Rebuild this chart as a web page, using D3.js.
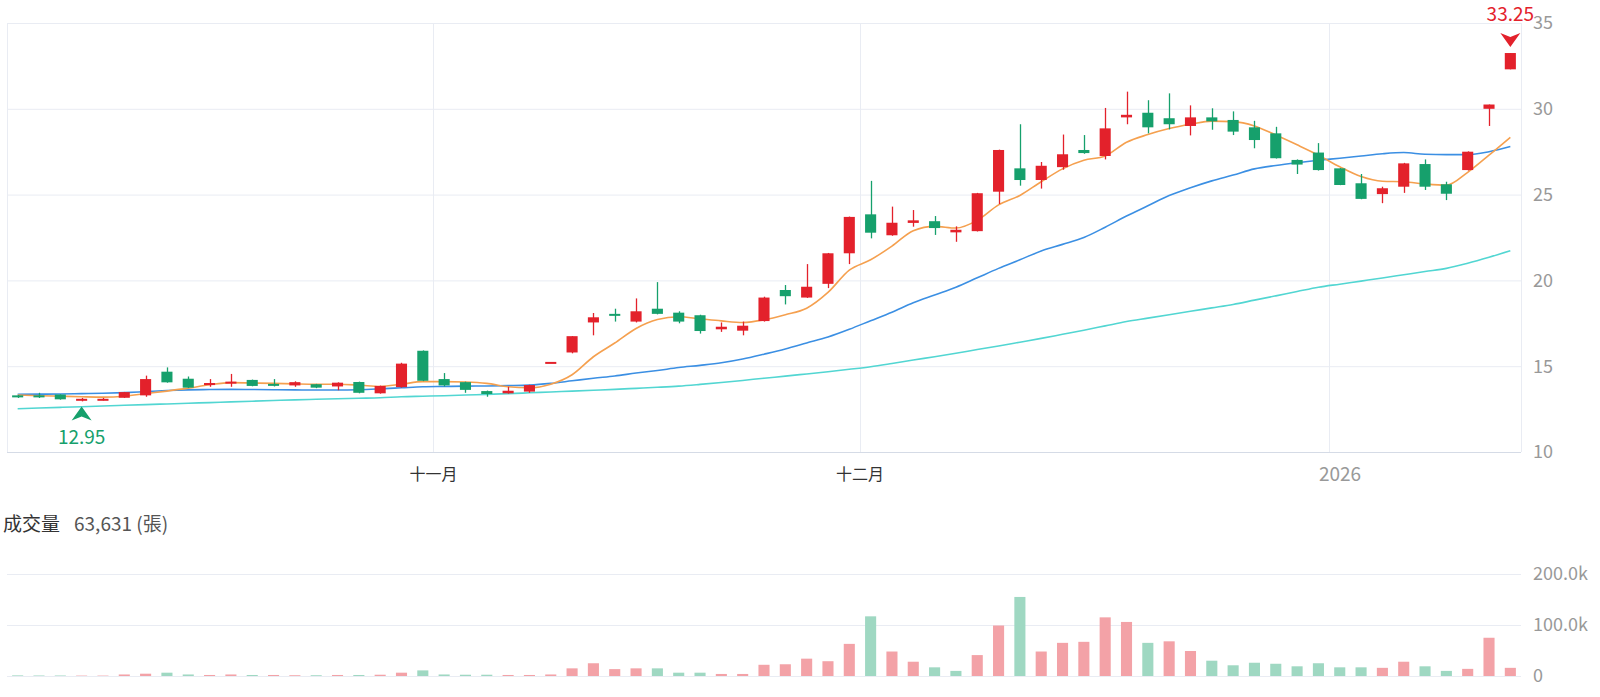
<!DOCTYPE html>
<meta charset="utf-8">
<style>
  body { margin: 0; background: #fff; }
  svg { display: block; font-family: "Noto Sans CJK TC", "Noto Sans", sans-serif; }
  .grid line { stroke: #e9ecf3; stroke-width: 1; }
  .ylab { font-size: 18px; fill: #999; }
</style>
<script src="https://d3js.org/d3.v7.min.js"></script>
<div id="chart"></div>
<script>
  // trading days shown (Oct 2025 - mid Jan 2026)
  var dates = [
    "2025-10-01","2025-10-02","2025-10-03","2025-10-07","2025-10-08","2025-10-09","2025-10-13","2025-10-14",
    "2025-10-15","2025-10-16","2025-10-17","2025-10-20","2025-10-21","2025-10-22","2025-10-23","2025-10-27",
    "2025-10-28","2025-10-29","2025-10-30","2025-10-31",
    "2025-11-03","2025-11-04","2025-11-05","2025-11-06","2025-11-07","2025-11-10","2025-11-11","2025-11-12",
    "2025-11-13","2025-11-14","2025-11-17","2025-11-18","2025-11-19","2025-11-20","2025-11-21","2025-11-24",
    "2025-11-25","2025-11-26","2025-11-27","2025-11-28",
    "2025-12-01","2025-12-02","2025-12-03","2025-12-04","2025-12-05","2025-12-08","2025-12-09","2025-12-10",
    "2025-12-11","2025-12-12","2025-12-15","2025-12-16","2025-12-17","2025-12-18","2025-12-19","2025-12-22",
    "2025-12-23","2025-12-24","2025-12-26","2025-12-29","2025-12-30","2025-12-31",
    "2026-01-02","2026-01-05","2026-01-06","2026-01-07","2026-01-08","2026-01-09","2026-01-12","2026-01-13",
    "2026-01-14"
  ];
  var open = [13.3,13.3,13.35,13.05,13.08,13.16,13.3,14.68,14.27,13.9,14.0,14.2,13.97,13.88,13.95,13.82,14.08,13.42,13.78,15.9,
    14.25,14.07,13.55,13.42,13.52,15.25,15.8,17.55,18.05,17.6,18.35,18.12,17.97,17.15,17.07,17.63,19.44,19.0,19.8,21.58,
    23.85,22.63,23.35,23.45,22.8,22.87,25.17,26.53,25.85,26.6,27.6,27.25,29.5,29.77,29.45,29.0,29.5,29.35,28.92,28.57,27.02,27.45,
    26.53,25.66,25.03,25.46,26.78,25.6,26.43,30.0,32.3];
  var high = [13.32,13.45,13.36,13.15,13.15,13.5,14.45,14.93,14.4,14.25,14.55,14.22,14.25,14.12,13.97,14.06,14.1,13.87,15.2,15.92,
    14.6,14.1,13.58,13.8,13.92,15.25,16.75,18.1,18.35,18.95,19.9,18.2,18.0,17.55,17.6,19.05,19.73,20.95,21.6,23.72,
    25.8,24.3,24.1,23.75,23.15,25.1,27.62,29.1,26.9,28.5,28.47,30.05,31.0,30.5,30.9,30.2,30.03,29.85,29.3,28.95,27.05,28.0,
    26.55,26.2,25.46,26.85,27.05,25.75,27.52,30.25,33.25];
  var low = [13.15,13.15,13.05,12.95,13.0,13.15,13.22,14.04,13.73,13.8,13.8,13.83,13.82,13.8,13.72,13.6,13.42,13.4,13.75,14.13,
    13.82,13.45,13.22,13.4,13.45,15.25,15.75,16.8,17.6,17.55,18.02,17.5,16.9,17.0,16.8,17.6,18.6,18.98,19.55,20.95,
    22.45,22.6,23.13,22.65,22.25,22.85,24.45,25.52,25.35,26.45,27.38,27.05,29.1,28.57,28.8,28.45,28.78,28.47,27.7,27.1,26.2,26.4,
    25.55,24.73,24.5,25.1,25.27,24.68,26.4,29.0,32.3];
  var close = [13.2,13.2,13.07,13.1,13.1,13.49,14.25,14.06,13.75,14.02,14.1,13.85,13.88,14.07,13.75,14.04,13.45,13.85,15.15,14.15,
    13.88,13.62,13.38,13.57,13.9,15.25,16.75,17.85,17.95,18.2,18.05,17.6,17.05,17.3,17.36,19.0,19.08,19.63,21.58,23.7,
    22.78,23.36,23.5,23.05,22.95,25.08,27.6,25.85,26.68,27.35,27.42,28.86,29.65,28.92,29.1,29.5,29.27,28.67,28.18,27.12,26.75,26.43,
    25.56,24.75,25.37,26.82,25.46,25.05,27.5,30.25,33.25];
  // volume in 張
  var volume = [1200,1000,1000,800,800,3000,4500,6500,3000,2000,3000,2000,2000,1500,1500,2000,2000,2500,6500,11000,
    3000,2500,2500,2000,2000,3000,15000,25000,13500,15000,15000,6500,6500,4000,4000,22000,23000,34000,29000,63000,
    117000,48000,28000,17000,10000,41000,99000,155000,48000,65000,67000,115000,106000,65000,68000,49000,30000,21000,26000,24000,19000,25000,
    17000,17000,16000,28000,19000,10000,14000,75000,16000];
  // moving averages as drawn
  var ma5 = [13.32,13.28,13.25,13.22,13.2,13.25,13.4,13.55,13.72,13.92,14.04,14.02,14.0,13.97,13.95,13.95,13.9,13.82,13.95,14.1,
    14.1,14.08,14.0,13.8,13.74,13.95,14.5,15.55,16.35,17.2,17.72,17.88,17.76,17.64,17.55,17.7,18.0,18.38,19.3,20.6,
    21.2,22.0,22.9,23.15,23.05,23.5,24.4,24.95,25.75,26.5,27.0,27.25,28.05,28.5,28.85,29.1,29.28,29.25,29.0,28.47,27.9,27.3,
    26.62,26.05,25.78,25.75,25.62,25.55,26.3,27.3,28.34];
  var ma20 = [13.36,13.37,13.38,13.4,13.42,13.46,13.52,13.58,13.62,13.64,13.65,13.64,13.63,13.62,13.61,13.61,13.63,13.68,13.74,13.8,
    13.82,13.84,13.85,13.87,13.9,14.0,14.15,14.3,14.43,14.6,14.75,14.92,15.05,15.2,15.42,15.7,16.0,16.35,16.7,17.15,
    17.65,18.15,18.7,19.15,19.6,20.15,20.7,21.2,21.72,22.1,22.5,23.1,23.75,24.35,24.95,25.4,25.8,26.14,26.5,26.7,26.86,27.0,
    27.12,27.25,27.38,27.45,27.35,27.33,27.33,27.5,27.8];
  var ma60 = [12.52,12.56,12.6,12.64,12.68,12.72,12.76,12.8,12.84,12.88,12.92,12.96,13.0,13.04,13.07,13.1,13.13,13.16,13.22,13.25,
    13.28,13.32,13.36,13.4,13.45,13.5,13.55,13.6,13.65,13.71,13.77,13.84,13.94,14.05,14.17,14.3,14.42,14.55,14.68,14.82,
    14.97,15.16,15.36,15.55,15.75,15.97,16.18,16.4,16.62,16.86,17.1,17.35,17.6,17.8,18.0,18.2,18.4,18.6,18.85,19.1,19.35,19.6,
    19.78,19.96,20.14,20.33,20.52,20.7,21.0,21.35,21.73];

  var priceTicks = [10, 15, 20, 25, 30, 35];
  var volumeTicks = [0, 100000, 200000];
  var monthStarts = ["2025-11-03", "2025-12-01", "2026-01-02"];
  var monthLabels = ["十一月", "十二月", "2026"];
  var volumeTitle = "成交量";
  var volumeValueText = "63,631 (張)";

  var width = 1600, height = 697;
  var upColor = "#e3212b", downColor = "#16a06c";
  var upVol = "#f3a2a7", downVol = "#9fd8c2";

  var svg = d3.select("#chart").append("svg")
    .attr("width", width)
    .attr("height", height);

  var left = 7, right = 1521;
  var x = d3.scaleBand().domain(dates).range([left, right]).paddingInner(0.48).paddingOuter(0.24);
  var y = d3.scaleLinear().domain([10, 35]).range([452, 23]);
  var yv = d3.scaleLinear().domain([0, 200000]).range([676, 574]);
  var step = x.step();
  var cx = function(d) { return x(d) + x.bandwidth() / 2; };
  var edge = function(d) { return x(d) - (step - x.bandwidth()) / 2; };
  var isYear = function(s) { return /^\d+$/.test(s); };

  var data = dates.map(function(d, i) {
    var prev = i > 0 ? close[i - 1] : open[i];
    var up = close[i] > open[i] ? true : close[i] < open[i] ? false : close[i] >= prev;
    var volUp = close[i] > prev ? true : close[i] < prev ? false : up;
    return { date: d, o: open[i], h: high[i], l: low[i], c: close[i], v: volume[i], up: up, volUp: volUp };
  });

  // price grid
  var grid = svg.append("g").attr("class", "grid");
  grid.selectAll(".h").data(priceTicks).enter().append("line")
    .attr("x1", left).attr("x2", right)
    .attr("y1", function(d) { return y(d) + 0.5; })
    .attr("y2", function(d) { return y(d) + 0.5; })
    .style("stroke", function(d) { return d === 10 ? "#d5dbe6" : null; });
  grid.selectAll(".v").data(monthStarts).enter().append("line")
    .attr("x1", function(d) { return Math.round(edge(d)) + 0.5; })
    .attr("x2", function(d) { return Math.round(edge(d)) + 0.5; })
    .attr("y1", y(35)).attr("y2", y(10));
  grid.selectAll(".side").data([left, right]).enter().append("line")
    .attr("x1", function(d) { return d + 0.5; }).attr("x2", function(d) { return d + 0.5; })
    .attr("y1", y(35)).attr("y2", y(10));

  svg.append("g").selectAll("text").data(priceTicks).enter().append("text")
    .attr("class", "ylab")
    .attr("x", 1533)
    .attr("y", function(d) { return y(d); })
    .attr("dy", "0.35em")
    .text(function(d) { return d; });

  svg.append("g").selectAll("text").data(monthStarts).enter().append("text")
    .attr("x", function(d, i) { return edge(d) + (isYear(monthLabels[i]) ? 11 : 0); })
    .attr("y", 474)
    .attr("dy", "0.35em")
    .attr("text-anchor", "middle")
    .style("font-size", function(d, i) { return isYear(monthLabels[i]) ? "19px" : "16px"; })
    .style("fill", function(d, i) { return isYear(monthLabels[i]) ? "#999" : "#333"; })
    .text(function(d, i) { return monthLabels[i]; });

  // moving averages
  var lineOf = function(arr) {
    return d3.line()
      .x(function(d, i) { return cx(dates[i]); })
      .y(function(d) { return y(d); })
      .curve(d3.curveMonotoneX)(arr);
  };
  [[ma60, "#52d6d2"], [ma20, "#3b8fe3"], [ma5, "#f5a04f"]].forEach(function(s) {
    svg.append("path")
      .attr("d", lineOf(s[0]))
      .attr("fill", "none")
      .attr("stroke", s[1])
      .attr("stroke-width", 1.6);
  });

  // candles
  var candle = svg.append("g").selectAll("g").data(data).enter().append("g");
  candle.append("line")
    .attr("x1", function(d) { return Math.round(cx(d.date)) + 0.5; })
    .attr("x2", function(d) { return Math.round(cx(d.date)) + 0.5; })
    .attr("y1", function(d) { return y(d.h); })
    .attr("y2", function(d) { return y(d.l); })
    .attr("stroke", function(d) { return d.up ? upColor : downColor; })
    .attr("stroke-width", 1.3);
  candle.append("rect")
    .attr("x", function(d) { return x(d.date); })
    .attr("width", x.bandwidth())
    .attr("y", function(d) { return y(Math.max(d.o, d.c)); })
    .attr("height", function(d) { return Math.max(2, Math.abs(y(d.o) - y(d.c))); })
    .attr("fill", function(d) { return d.up ? upColor : downColor; });

  // extreme markers
  var iMin = d3.minIndex(low), iMax = d3.maxIndex(high);
  var mx = cx(dates[iMin]), my = y(low[iMin]) + 5;
  svg.append("path")
    .attr("d", "M" + mx + "," + my + "l10,14l-10,-4l-10,4z")
    .attr("fill", downColor);
  svg.append("text")
    .attr("x", mx).attr("y", my + 31)
    .attr("dy", "0.35em")
    .attr("text-anchor", "middle")
    .style("font-size", "19px")
    .style("fill", downColor)
    .text(d3.format(".2f")(low[iMin]));
  var hx = cx(dates[iMax]), hy = y(high[iMax]) - 6;
  svg.append("path")
    .attr("d", "M" + hx + "," + hy + "l10,-14l-10,4l-10,-4z")
    .attr("fill", upColor);
  svg.append("text")
    .attr("x", hx).attr("y", hy - 33)
    .attr("dy", "0.35em")
    .attr("text-anchor", "middle")
    .style("font-size", "19px")
    .style("fill", upColor)
    .text(d3.format(".2f")(high[iMax]));

  // volume panel
  var vtitle = svg.append("text").attr("x", 3).attr("y", 524).attr("dy", "0.35em").style("font-size", "19px");
  vtitle.append("tspan").style("fill", "#333").text(volumeTitle);
  vtitle.append("tspan").attr("dx", 14).style("fill", "#555").text(volumeValueText);

  svg.append("g").attr("class", "grid").selectAll("line").data(volumeTicks).enter().append("line")
    .attr("x1", left).attr("x2", right)
    .attr("y1", function(d) { return yv(d) + 0.5; })
    .attr("y2", function(d) { return yv(d) + 0.5; });

  svg.append("g").selectAll("rect").data(data).enter().append("rect")
    .attr("x", function(d) { return x(d.date); })
    .attr("width", x.bandwidth())
    .attr("y", function(d) { return yv(d.v); })
    .attr("height", function(d) { return yv(0) - yv(d.v); })
    .attr("fill", function(d) { return d.volUp ? upVol : downVol; });

  svg.append("g").selectAll("text").data(volumeTicks).enter().append("text")
    .attr("class", "ylab")
    .attr("x", 1533)
    .attr("y", function(d) { return yv(d); })
    .attr("dy", "0.35em")
    .text(function(d) { return d === 0 ? "0" : d3.format(".1f")(d / 1000) + "k"; });
</script>
